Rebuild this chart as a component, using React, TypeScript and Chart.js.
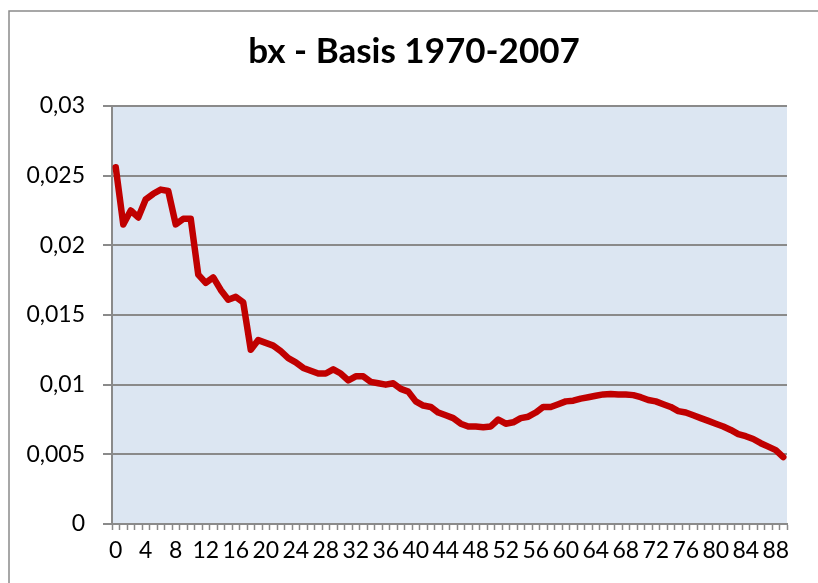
import React, { useEffect, useRef } from "react";
import { Chart, registerables } from "chart.js";

Chart.register(...registerables);

const titleText = "bx - Basis 1970-2007";

const ages: string[] = Array.from({ length: 90 }, (_, i) => String(i));

const bxValues: number[] = [
  0.0256, 0.0215, 0.0225, 0.022, 0.0233, 0.0237, 0.024, 0.0239, 0.0215, 0.0219,
  0.0219, 0.0179, 0.0173, 0.0177, 0.0168, 0.0161, 0.0163, 0.0159, 0.0125, 0.0132,
  0.013, 0.0128, 0.0124, 0.0119, 0.0116, 0.0112, 0.011, 0.0108, 0.0108, 0.0111,
  0.0108, 0.0103, 0.0106, 0.0106, 0.0102, 0.0101, 0.01, 0.0101, 0.0097, 0.0095,
  0.0088, 0.0085, 0.0084, 0.008, 0.0078, 0.0076, 0.0072, 0.007, 0.007, 0.00695,
  0.007, 0.0075, 0.0072, 0.0073, 0.0076, 0.0077, 0.008, 0.0084, 0.0084, 0.0086,
  0.0088, 0.00885, 0.009, 0.0091, 0.0092, 0.0093, 0.00933, 0.0093, 0.0093, 0.00925,
  0.0091, 0.0089, 0.0088, 0.0086, 0.0084, 0.0081, 0.008, 0.0078, 0.0076, 0.0074,
  0.0072, 0.007, 0.00675, 0.00645, 0.0063, 0.0061, 0.0058, 0.00555, 0.0053, 0.0048,
];

const yTickLabels: string[] = ["0", "0,005", "0,01", "0,015", "0,02", "0,025", "0,03"];

const framePlugin = {
  id: "frame",
  beforeDraw(chart: any) {
    const { ctx, chartArea } = chart;
    ctx.save();
    ctx.fillStyle = "#ffffff";
    ctx.fillRect(0, 0, chart.width, chart.height);
    ctx.strokeStyle = "#8a8a8a";
    ctx.lineWidth = 1.5;
    ctx.beginPath();
    ctx.moveTo(9, chart.height + 5);
    ctx.lineTo(9, 11);
    ctx.lineTo(chart.width + 5, 11);
    ctx.stroke();
    ctx.fillStyle = "#DCE6F2";
    ctx.fillRect(chartArea.left, chartArea.top, chartArea.right - chartArea.left, chartArea.bottom - chartArea.top);
    ctx.restore();
  },
  afterDraw(chart: any) {
    const { ctx } = chart;
    ctx.save();
    ctx.fillStyle = "#000000";
    ctx.font = "bold 35px Lato";
    ctx.textAlign = "center";
    ctx.textBaseline = "alphabetic";
    ctx.fillText(titleText, 414, 63);
    ctx.restore();
  },
};

export default function App() {
  const ref = useRef<HTMLCanvasElement | null>(null);
  useEffect(() => {
    document.body.style.margin = "0";
    const canvas = ref.current!;
    const chart = new Chart(canvas, {
      type: "line",
      data: {
        labels: ages,
        datasets: [
          {
            data: bxValues,
            borderColor: "#C00000",
            borderWidth: 6.5,
            pointRadius: 0,
            tension: 0,
            borderJoinStyle: "round",
            borderCapStyle: "round",
            fill: false,
          },
        ],
      },
      options: {
        animation: false,
        responsive: false,
        layout: { padding: { left: 0, right: 31, top: 106, bottom: 0 } },
        plugins: {
          legend: { display: false },
          tooltip: { enabled: false },
          title: { display: false },
        },
        scales: {
          x: {
            type: "category",
            offset: true,
            grid: {
              display: true,
              offset: true,
              drawOnChartArea: false,
              drawTicks: true,
              tickLength: 6,
              tickColor: "#8a8a8a",
              tickWidth: 1.5,
            },
            border: { display: true, color: "#8a8a8a", width: 2 },
            ticks: {
              autoSkip: false,
              maxRotation: 0,
              minRotation: 0,
              color: "#000000",
              padding: 7,
              font: { family: "Lato", size: 23 },
              callback: (_v: any, i: number) => (i % 4 === 0 ? ages[i] : ""),
            },
            afterFit: (scale: any) => {
              scale.height = 59;
            },
          },
          y: {
            min: 0,
            max: 0.03,
            ticks: {
              stepSize: 0.005,
              color: "#000000",
              padding: 18,
              font: { family: "Lato", size: 23 },
              callback: (_v: any, i: number) => yTickLabels[i],
            },
            grid: {
              color: "#8a8a8a",
              lineWidth: 2,
              tickLength: 9,
              tickColor: "#8a8a8a",
            },
            border: { display: true, color: "#8a8a8a", width: 2 },
            afterFit: (scale: any) => {
              scale.width = 112;
            },
          },
        },
      },
      plugins: [framePlugin],
    } as any);
    return () => chart.destroy();
  }, []);
  return <canvas ref={ref} width={818} height={583} style={{ display: "block" }} />;
}
